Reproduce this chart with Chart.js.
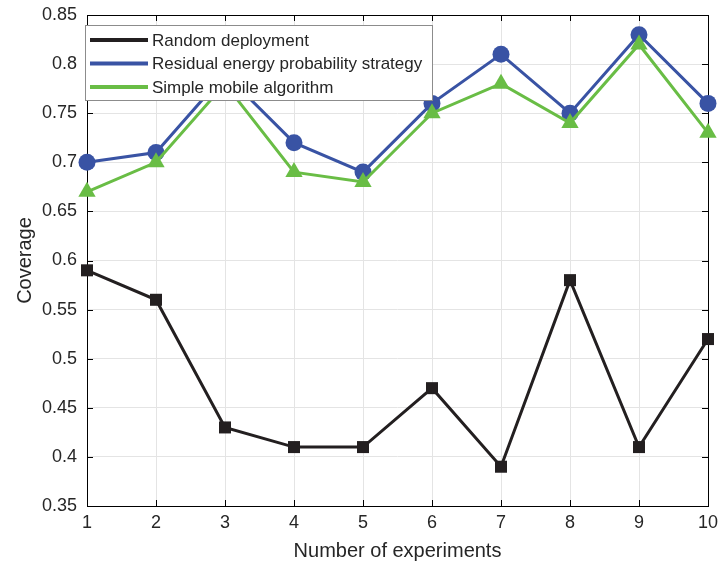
<!DOCTYPE html>
<html>
<head>
<meta charset="utf-8">
<script src="https://cdn.jsdelivr.net/npm/chart.js@4.4.0/dist/chart.umd.min.js"></script>
<style>
html,body{margin:0;padding:0;background:#fff;}
#wrap{position:relative;width:720px;height:568px;}
</style>
</head>
<body>
<div id="wrap"><canvas id="c" width="720" height="568"></canvas></div>
<script>
const experiments = [1, 2, 3, 4, 5, 6, 7, 8, 9, 10];
const randomDeployment = [0.59, 0.56, 0.43, 0.41, 0.41, 0.47, 0.39, 0.58, 0.41, 0.52];
const residualEnergy = [0.70, 0.71, 0.79, 0.72, 0.69, 0.76, 0.81, 0.75, 0.83, 0.76];
const simpleMobile = [0.67, 0.70, 0.78, 0.69, 0.68, 0.75, 0.78, 0.74, 0.82, 0.73];
const xTicks = [1, 2, 3, 4, 5, 6, 7, 8, 9, 10];
const yTicks = [0.35, 0.40, 0.45, 0.50, 0.55, 0.60, 0.65, 0.70, 0.75, 0.80, 0.85];
const seriesNames = ['Random deployment', 'Residual energy probability strategy', 'Simple mobile algorithm'];

const C_BLACK = '#231f20', C_BLUE = '#3953a4', C_GREEN = '#69bd45';
const FONT = "'Liberation Sans', Arial, Helvetica, sans-serif";
const TXT = '#262626';

function pts(arr){ return arr.map((v,i)=>({x: experiments[i], y: v})); }

const boxPlugin = {
  id: 'box',
  beforeDatasetsDraw(chart){
    const {ctx, chartArea:a, scales:{x, y}} = chart;
    ctx.save();
    ctx.strokeStyle = '#000';
    ctx.lineWidth = 1;
    const tl = 6;
    ctx.beginPath();
    xTicks.forEach(v=>{
      const px = Math.round(x.getPixelForValue(v)) + 0.5;
      ctx.moveTo(px, a.bottom); ctx.lineTo(px, a.bottom - tl);
      ctx.moveTo(px, a.top); ctx.lineTo(px, a.top + tl);
    });
    yTicks.forEach(v=>{
      const py = Math.round(y.getPixelForValue(v)) + 0.5;
      ctx.moveTo(a.left, py); ctx.lineTo(a.left + tl, py);
      ctx.moveTo(a.right, py); ctx.lineTo(a.right - tl, py);
    });
    ctx.stroke();
    ctx.strokeRect(Math.round(a.left)+0.5, Math.round(a.top)+0.5, Math.round(a.right-a.left), Math.round(a.bottom-a.top));
    ctx.restore();
  },
  afterDraw(chart){
    const {ctx, chartArea:a} = chart;
    const lx = a.left - 2, ly = 25, lw = 347, lh = 75;
    ctx.save();
    ctx.fillStyle = '#fff';
    ctx.fillRect(lx, ly, lw, lh);
    ctx.strokeStyle = '#8c8c8c';
    ctx.lineWidth = 1;
    ctx.strokeRect(lx + 0.5, ly + 0.5, lw, lh);
    const colors = [C_BLACK, C_BLUE, C_GREEN];
    const rows = [40, 63.5, 87];
    ctx.font = '17px ' + FONT;
    ctx.textBaseline = 'middle';
    ctx.textAlign = 'left';
    seriesNames.forEach((n,i)=>{
      ctx.strokeStyle = colors[i];
      ctx.lineWidth = 4;
      ctx.beginPath();
      ctx.moveTo(lx + 5, rows[i]); ctx.lineTo(lx + 63, rows[i]);
      ctx.stroke();
      ctx.fillStyle = TXT;
      ctx.fillText(n, lx + 67, rows[i] + 1);
    });
    ctx.restore();
  }
};

new Chart(document.getElementById('c'), {
  type: 'line',
  data: {
    datasets: [
      { label: seriesNames[0], data: pts(randomDeployment), borderColor: C_BLACK, backgroundColor: C_BLACK,
        borderWidth: 3, pointStyle: 'rect', pointRadius: 8.5, pointHoverRadius: 8.5, pointBorderWidth: 0, clip: false, order: 3 },
      { label: seriesNames[1], data: pts(residualEnergy), borderColor: C_BLUE, backgroundColor: C_BLUE,
        borderWidth: 3, pointStyle: 'circle', pointRadius: 8.5, pointHoverRadius: 8.5, pointBorderWidth: 0, clip: false, order: 2 },
      { label: seriesNames[2], data: pts(simpleMobile), borderColor: C_GREEN, backgroundColor: C_GREEN,
        borderWidth: 3, pointStyle: 'triangle', pointRadius: 10, pointHoverRadius: 10, pointBorderWidth: 0, clip: false, order: 1 }
    ]
  },
  options: {
    responsive: false,
    animation: false,
    events: [],
    layout: { padding: { top: 15, right: 12, left: 0, bottom: 0 } },
    plugins: { legend: { display: false }, tooltip: { enabled: false } },
    elements: { line: { tension: 0 } },
    scales: {
      x: {
        type: 'linear', min: 1, max: 10,
        afterBuildTicks(s){ s.ticks = xTicks.map(v=>({value: v})); },
        afterFit(s){ s.height = 62; s.paddingLeft = 0; s.paddingRight = 0; },
        grid: { color: '#e4e4e4', lineWidth: 1, drawTicks: false },
        border: { display: false },
        ticks: { color: TXT, font: { family: FONT, size: 18 }, padding: 6, maxRotation: 0, autoSkip: false,
                 callback: v => String(v) },
        title: { display: true, text: 'Number of experiments', color: TXT, font: { family: FONT, size: 20 },
                 padding: { top: 0, bottom: 5 } }
      },
      y: {
        type: 'linear', min: 0.35, max: 0.85,
        afterBuildTicks(s){ s.ticks = yTicks.map(v=>({value: v})); },
        afterFit(s){ s.width = 87; s.paddingTop = 0; s.paddingBottom = 0; },
        grid: { color: '#e4e4e4', lineWidth: 1, drawTicks: false },
        border: { display: false },
        ticks: { color: TXT, font: { family: FONT, size: 18 }, padding: 10, autoSkip: false,
                 callback: v => String(Number(v.toFixed(2))) },
        title: { display: true, text: 'Coverage', color: TXT, font: { family: FONT, size: 20 },
                 padding: { top: 13, bottom: 0 } }
      }
    }
  },
  plugins: [boxPlugin]
});
</script>
</body>
</html>
